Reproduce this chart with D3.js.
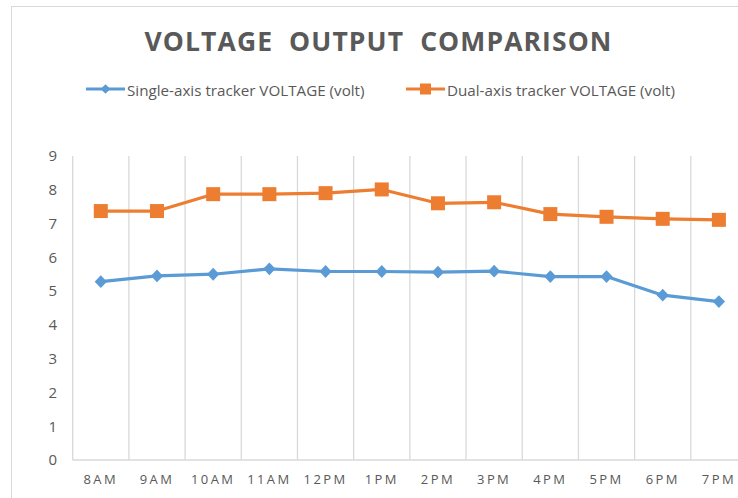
<!DOCTYPE html>
<html><head><meta charset="utf-8">
<script src="https://cdn.jsdelivr.net/npm/d3@7"></script>
<style>body{margin:0;background:#fff}svg{display:block}</style>
</head><body>
<svg id="c" width="738" height="498"></svg>
<script>
const categories = ["8AM","9AM","10AM","11AM","12PM","1PM","2PM","3PM","4PM","5PM","6PM","7PM"];
const singleAxis = [5.28,5.45,5.50,5.66,5.58,5.58,5.56,5.59,5.43,5.43,4.88,4.69];
const dualAxis = [7.37,7.37,7.87,7.87,7.90,8.01,7.60,7.63,7.28,7.20,7.14,7.11];
const yTicks = [0,1,2,3,4,5,6,7,8,9];
const seriesNames = ["Single-axis tracker VOLTAGE (volt)","Dual-axis tracker VOLTAGE (volt)"];
const colors = ["#5B9BD5","#ED7D31"];

const svg = d3.select("#c");
const font = "'Open Sans', 'Noto Sans', sans-serif";
const txt = "#595959";

// outer chart border (cropped)
svg.append("rect").attr("x",11.5).attr("y",6.5).attr("width",760).attr("height",520)
  .attr("fill","none").attr("stroke","#d9d9d9").attr("stroke-width",1);

const x = d3.scaleBand().domain(categories).range([72.7,747]).paddingInner(0).paddingOuter(0);
const y = d3.scaleLinear().domain([0,9]).range([460,156]);

// vertical gridlines at category boundaries
const bounds = categories.map(c=>x(c)).concat([x.range()[1]]);
svg.append("g").selectAll("line").data(bounds).join("line")
  .attr("x1",d=>d).attr("x2",d=>d).attr("y1",y(9)).attr("y2",y(0))
  .attr("stroke","#d9d9d9").attr("stroke-width",1.3);

// baseline
svg.append("line").attr("x1",x.range()[0]).attr("x2",x.range()[1]).attr("y1",y(0)).attr("y2",y(0))
  .attr("stroke","#d9d9d9").attr("stroke-width",1.3);

// y axis labels
const yAxis = d3.axisLeft(y).tickValues(yTicks).tickSize(0).tickPadding(0);
const gy = svg.append("g").attr("transform","translate(57,0)").call(yAxis);
gy.select(".domain").remove();
gy.selectAll("text").attr("font-family",font).attr("font-size",15).attr("fill",txt);

// x axis labels
const xAxis = d3.axisBottom(x).tickSize(0).tickPadding(0);
const gx = svg.append("g").attr("transform",`translate(0,${y(0)+15})`).call(xAxis);
gx.select(".domain").remove();
gx.selectAll("text").attr("font-family",font).attr("font-size",13).attr("fill",txt)
  .attr("letter-spacing","2.4px");

const cx = d => x(d) + x.bandwidth()/2;
const series = [singleAxis, dualAxis];
const line = d3.line().x((d,i)=>cx(categories[i])).y(d=>y(d));

series.forEach((vals,si)=>{
  svg.append("path").datum(vals).attr("d",line).attr("fill","none")
    .attr("stroke",colors[si]).attr("stroke-width",3.2).attr("stroke-linejoin","round");
});

// markers
const diamond = d3.symbol().type(d3.symbolDiamond2).size(95);
svg.append("g").selectAll("path").data(singleAxis).join("path")
  .attr("d",diamond).attr("transform",(d,i)=>`translate(${cx(categories[i])},${y(d)}) scale(1.0,1.05)`)
  .attr("fill",colors[0]);
svg.append("g").selectAll("rect").data(dualAxis).join("rect")
  .attr("x",(d,i)=>cx(categories[i])-7).attr("y",d=>y(d)-7).attr("width",14).attr("height",14)
  .attr("fill",colors[1]);

// title
svg.append("text").attr("x",378.5).attr("y",50.5).attr("text-anchor","middle")
  .attr("font-family",font).attr("font-weight","bold").attr("font-size",26.5)
  .attr("letter-spacing","1.1px").attr("fill",txt)
  .style("white-space","pre")
  .text("VOLTAGE  OUTPUT  COMPARISON");

// legend
const legX = [86,406];
seriesNames.forEach((n,i)=>{
  const g = svg.append("g").attr("transform",`translate(${legX[i]},89)`);
  g.append("line").attr("x1",0).attr("x2",39).attr("y1",0).attr("y2",0)
    .attr("stroke",colors[i]).attr("stroke-width",3.2);
  if(i===0){
    g.append("path").attr("d",d3.symbol().type(d3.symbolDiamond2).size(60)).attr("transform","translate(19.5,0)").attr("fill",colors[i]);
  } else {
    g.append("rect").attr("x",14).attr("y",-5.5).attr("width",11).attr("height",11).attr("fill",colors[i]);
  }
  g.append("text").attr("x",41).attr("y",7).attr("font-family",font).attr("font-size",15.2)
    .attr("fill",txt).text(n);
});
</script>
</body></html>
